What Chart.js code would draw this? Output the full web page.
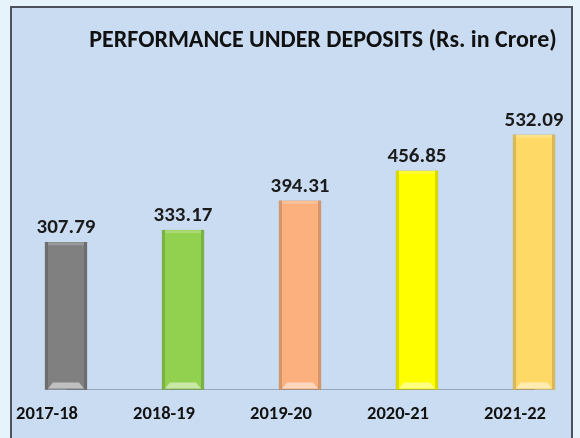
<!DOCTYPE html>
<html>
<head>
<meta charset="utf-8">
<script src="https://cdn.jsdelivr.net/npm/chart.js@4.4.1/dist/chart.umd.min.js"></script>
<style>
  html, body { margin: 0; padding: 0; background: #e6f3fb; }
  #wrap { width: 580px; height: 438px; }
</style>
</head>
<body>
<div id="wrap"><canvas id="c" width="580" height="438"></canvas></div>
<script>
const categories = ['2017-18', '2018-19', '2019-20', '2020-21', '2021-22'];
const deposits = [307.79, 333.17, 394.31, 456.85, 532.09];
const barColors = ['#808080', '#92d050', '#fbb07e', '#ffff00', '#ffd966'];
const titleText = 'PERFORMANCE UNDER DEPOSITS (Rs. in Crore)';
const FONT = 'Carlito, Calibri, Lato, sans-serif';

function shade(hex, amt) {
  const n = parseInt(hex.slice(1), 16);
  let r = (n >> 16) & 255, g = (n >> 8) & 255, b = n & 255;
  const f = v => Math.max(0, Math.min(255, Math.round(amt < 0 ? v * (1 + amt) : v + (255 - v) * amt)));
  return `rgb(${f(r)},${f(g)},${f(b)})`;
}

const framePlugin = {
  id: 'frame',
  beforeDraw(chart) {
    const ctx = chart.ctx;
    ctx.save();
    ctx.fillStyle = '#e6f3fb';
    ctx.fillRect(0, 0, chart.width, chart.height);
    ctx.fillStyle = '#cadcf1';
    ctx.fillRect(11, 7, 561, 440);
    ctx.strokeStyle = '#4c535a';
    ctx.lineWidth = 2;
    ctx.strokeRect(11, 7, 561, 440);
    ctx.restore();
  }
};

const bevelPlugin = {
  id: 'bevel',
  afterDatasetsDraw(chart) {
    const ctx = chart.ctx;
    const meta = chart.getDatasetMeta(0);
    ctx.save();
    meta.data.forEach((bar, i) => {
      const p = bar.getProps(['x', 'y', 'base', 'width'], true);
      const l = p.x - p.width / 2, r = p.x + p.width / 2, t = p.y, b = p.base;
      const c = barColors[i];
      ctx.fillStyle = shade(c, -0.15);
      ctx.fillRect(l, t, 3, b - t);
      ctx.fillRect(r - 3, t, 3, b - t);
      ctx.fillStyle = shade(c, 0.2);
      ctx.fillRect(l + 3, t, r - l - 6, 3);
      ctx.fillStyle = shade(c, 0.5);
      ctx.beginPath();
      ctx.moveTo(l + 3, b - 1);
      ctx.lineTo(l + 8, b - 7);
      ctx.lineTo(r - 8, b - 7);
      ctx.lineTo(r - 3, b - 1);
      ctx.closePath();
      ctx.fill();
      ctx.fillStyle = '#1b1b1b';
      ctx.font = 'bold 21px ' + FONT;
      ctx.textAlign = 'center';
      ctx.textBaseline = 'alphabetic';
      ctx.fillText(deposits[i].toFixed(2), p.x, t - 9);
    });
    ctx.restore();
  }
};

new Chart(document.getElementById('c'), {
  type: 'bar',
  data: {
    labels: categories,
    datasets: [{
      data: deposits,
      backgroundColor: barColors,
      borderColor: barColors.map(c => shade(c, -0.3)),
      borderWidth: 1,
      borderSkipped: false,
      barThickness: 42,
      clip: false
    }]
  },
  options: {
    responsive: false,
    animation: false,
    events: [],
    layout: { padding: { left: 66, right: 0, top: 0, bottom: 0 } },
    plugins: {
      legend: { display: false },
      tooltip: { enabled: false },
      title: {
        display: true,
        text: titleText,
        color: '#111',
        font: { family: FONT, size: 24, weight: 'bold' },
        padding: { top: 27, bottom: 8.3 }
      }
    },
    scales: {
      x: {
        offset: false,
        grid: { display: false, drawTicks: false },
        border: { display: true, color: 'rgba(120,130,150,0.6)', width: 1 },
        ticks: { color: '#111', font: { family: FONT, size: 18.5, weight: 'bold' }, padding: 14, labelOffset: -19, maxRotation: 0, autoSkip: false },
        afterFit(s) { s.height = 48.5; }
      },
      y: {
        display: false,
        min: 0,
        max: 680
      },
      y2: {
        type: 'linear',
        position: 'right',
        display: true,
        grid: { display: false, drawTicks: false },
        border: { display: false },
        ticks: { display: false },
        afterFit(s) { s.width = 46; }
      }
    }
  },
  plugins: [framePlugin, bevelPlugin]
});
</script>
</body>
</html>
